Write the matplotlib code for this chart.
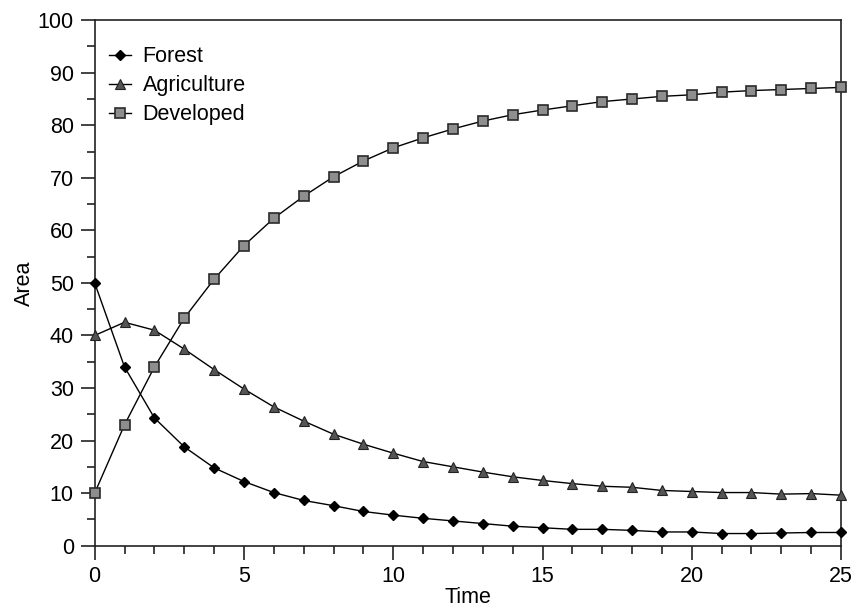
import numpy as np
import matplotlib.pyplot as plt
from matplotlib.ticker import MultipleLocator

plt.rcParams['font.family'] = ['Liberation Sans', 'DejaVu Sans']

time = np.arange(0, 26)
forest = [50, 34, 24.3, 18.8, 14.8, 12.2, 10.1, 8.6, 7.6, 6.5, 5.8, 5.2, 4.7,
          4.2, 3.7, 3.4, 3.1, 3.1, 2.9, 2.6, 2.6, 2.3, 2.3, 2.4, 2.5, 2.5]
agriculture = [40, 42.5, 41, 37.4, 33.5, 29.8, 26.4, 23.7, 21.2, 19.3, 17.6, 16,
               15, 14, 13.1, 12.4, 11.8, 11.3, 11.1, 10.5, 10.3, 10.1, 10.1,
               9.8, 9.9, 9.6]
developed = [10, 23, 34, 43.3, 50.7, 57.1, 62.3, 66.5, 70.2, 73.2, 75.7, 77.6,
             79.3, 80.8, 82, 82.9, 83.7, 84.5, 85, 85.5, 85.8, 86.3, 86.6, 86.8,
             87, 87.2]

FS = 15.5

fig = plt.figure(figsize=(8.53, 6.11), dpi=100)
ax = fig.add_axes([0.111, 0.107, 0.875, 0.860])

ax.plot(time, forest, color='black', lw=1, marker='D', ms=4.8,
        mfc='black', mec='black', label='Forest', clip_on=False, zorder=3)
ax.plot(time, agriculture, color='black', lw=1, marker='^', ms=6.5,
        mfc='#555555', mec='#222222', mew=0.8, label='Agriculture',
        clip_on=False, zorder=3)
ax.plot(time, developed, color='black', lw=1, marker='s', ms=7.2,
        mfc='#8e8e8e', mec='#2a2a2a', mew=1.2, label='Developed',
        clip_on=False, zorder=3)

ax.set_xlim(0, 25)
ax.set_ylim(0, 100)
ax.xaxis.set_major_locator(MultipleLocator(5))
ax.xaxis.set_minor_locator(MultipleLocator(1))
ax.yaxis.set_major_locator(MultipleLocator(10))
ax.yaxis.set_minor_locator(MultipleLocator(5))
ax.tick_params(which='major', direction='out', length=10, width=1.2,
               labelsize=FS, color='#222222', pad=5)
ax.tick_params(which='minor', direction='out', length=6, width=1.2,
               color='#222222')
for s in ax.spines.values():
    s.set_linewidth(1.2)
    s.set_color('#222222')

ax.set_xlabel('Time', fontsize=FS, labelpad=0)
ax.set_ylabel('Area', fontsize=FS, labelpad=2)

ax.legend(loc='upper left', frameon=False, fontsize=FS, handlelength=1.0,
          handletextpad=0.55, labelspacing=0.38, borderaxespad=0.0,
          bbox_to_anchor=(0.008, 0.967))

fig.savefig('out.png', dpi=100)
